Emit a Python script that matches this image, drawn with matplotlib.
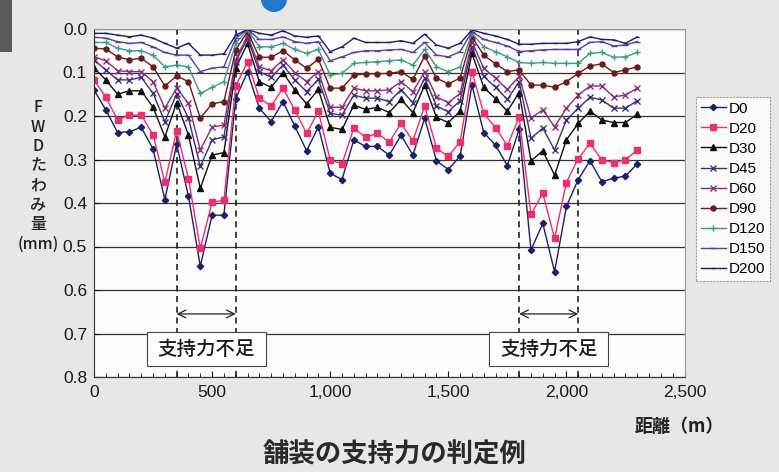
import matplotlib
matplotlib.use("Agg")
import matplotlib.pyplot as plt
from matplotlib.patches import Rectangle, Ellipse
import numpy as np

plt.rcParams['font.family'] = ['Liberation Sans', 'Noto Sans CJK JP', 'DejaVu Sans']

distance = list(range(0, 2301, 50))

D0 = [0.140, 0.186, 0.238, 0.236, 0.226, 0.276, 0.392, 0.265, 0.385, 0.545, 0.428, 0.428,
      0.160, 0.099, 0.182, 0.213, 0.167, 0.223, 0.280, 0.225, 0.332, 0.346, 0.255, 0.270,
      0.270, 0.290, 0.244, 0.290, 0.205, 0.303, 0.323, 0.292, 0.129, 0.238, 0.267, 0.314,
      0.230, 0.508, 0.447, 0.558, 0.408, 0.346, 0.303, 0.351, 0.343, 0.338, 0.310]
D20 = [0.117, 0.157, 0.209, 0.198, 0.198, 0.243, 0.352, 0.234, 0.344, 0.504, 0.398, 0.394,
       0.131, 0.076, 0.159, 0.177, 0.136, 0.186, 0.240, 0.189, 0.301, 0.310, 0.228, 0.249,
       0.240, 0.260, 0.217, 0.257, 0.177, 0.274, 0.293, 0.259, 0.098, 0.194, 0.227, 0.268,
       0.203, 0.426, 0.378, 0.481, 0.353, 0.298, 0.263, 0.301, 0.307, 0.301, 0.278]
D30 = [0.089, 0.117, 0.150, 0.142, 0.142, 0.180, 0.248, 0.169, 0.244, 0.366, 0.290, 0.284,
       0.090, 0.033, 0.121, 0.134, 0.100, 0.140, 0.172, 0.139, 0.226, 0.231, 0.175, 0.185,
       0.180, 0.192, 0.162, 0.192, 0.129, 0.203, 0.215, 0.189, 0.056, 0.134, 0.160, 0.189,
       0.146, 0.303, 0.280, 0.336, 0.255, 0.217, 0.189, 0.209, 0.215, 0.215, 0.196]
D45 = [0.071, 0.094, 0.117, 0.117, 0.111, 0.148, 0.213, 0.149, 0.205, 0.316, 0.255, 0.248,
       0.075, 0.021, 0.098, 0.111, 0.083, 0.117, 0.144, 0.116, 0.194, 0.198, 0.152, 0.159,
       0.159, 0.167, 0.140, 0.169, 0.113, 0.177, 0.190, 0.165, 0.041, 0.109, 0.134, 0.162,
       0.121, 0.251, 0.228, 0.278, 0.209, 0.182, 0.157, 0.163, 0.182, 0.182, 0.165]
D60 = [0.064, 0.073, 0.096, 0.098, 0.098, 0.121, 0.182, 0.136, 0.171, 0.278, 0.225, 0.221,
       0.071, 0.014, 0.087, 0.096, 0.071, 0.100, 0.121, 0.098, 0.180, 0.180, 0.136, 0.142,
       0.142, 0.140, 0.121, 0.144, 0.098, 0.156, 0.169, 0.148, 0.029, 0.090, 0.113, 0.139,
       0.109, 0.205, 0.186, 0.225, 0.182, 0.152, 0.131, 0.131, 0.156, 0.152, 0.136]
D90 = [0.044, 0.046, 0.064, 0.071, 0.067, 0.087, 0.131, 0.108, 0.121, 0.205, 0.172, 0.167,
       0.048, 0.006, 0.065, 0.065, 0.050, 0.071, 0.090, 0.070, 0.136, 0.136, 0.106, 0.103,
       0.103, 0.102, 0.098, 0.116, 0.062, 0.113, 0.126, 0.113, 0.018, 0.060, 0.080, 0.098,
       0.094, 0.129, 0.129, 0.134, 0.121, 0.102, 0.085, 0.080, 0.100, 0.094, 0.087]
D120 = [0.031, 0.031, 0.044, 0.050, 0.050, 0.060, 0.087, 0.083, 0.087, 0.148, 0.134, 0.121,
        0.033, 0.002, 0.041, 0.041, 0.033, 0.047, 0.056, 0.047, 0.106, 0.102, 0.079, 0.077,
        0.075, 0.073, 0.071, 0.083, 0.047, 0.087, 0.098, 0.087, 0.010, 0.041, 0.052, 0.064,
        0.077, 0.079, 0.077, 0.079, 0.079, 0.079, 0.056, 0.054, 0.065, 0.064, 0.054]
D150 = [0.019, 0.021, 0.029, 0.033, 0.031, 0.041, 0.054, 0.060, 0.060, 0.098, 0.090, 0.087,
        0.021, 0.001, 0.024, 0.024, 0.018, 0.029, 0.033, 0.029, 0.073, 0.064, 0.054, 0.050,
        0.050, 0.048, 0.047, 0.054, 0.031, 0.060, 0.064, 0.052, 0.006, 0.024, 0.031, 0.039,
        0.052, 0.050, 0.048, 0.047, 0.047, 0.047, 0.031, 0.029, 0.039, 0.037, 0.029]
D200 = [0.010, 0.010, 0.014, 0.018, 0.014, 0.021, 0.033, 0.044, 0.033, 0.060, 0.060, 0.057,
        0.014, 0.001, 0.010, 0.014, 0.004, 0.016, 0.019, 0.016, 0.052, 0.041, 0.021, 0.031,
        0.031, 0.031, 0.027, 0.033, 0.012, 0.037, 0.044, 0.033, 0.002, 0.010, 0.016, 0.024,
        0.035, 0.035, 0.033, 0.033, 0.033, 0.029, 0.018, 0.024, 0.025, 0.033, 0.018]

series_names = ['D0', 'D20', 'D30', 'D45', 'D60', 'D90', 'D120', 'D150', 'D200']
series_values = [D0, D20, D30, D45, D60, D90, D120, D150, D200]

y_ticks = [0.0, 0.1, 0.2, 0.3, 0.4, 0.5, 0.6, 0.7, 0.8]
x_ticks = [0, 500, 1000, 1500, 2000, 2500]
x_tick_labels = ['0', '500', '1,000', '1,500', '2,000', '2,500']

weak_zones = [(350, 600), (1800, 2050)]
weak_label = '支持力不足'

styles = {
    'D0':   dict(color='#1c1f6b', marker='D', ms=3.2),
    'D20':  dict(color='#ec2f6d', marker='s', ms=4.2),
    'D30':  dict(color='#111111', marker='^', ms=4.2),
    'D45':  dict(color='#3b2f7e', marker='x', ms=4.0),
    'D60':  dict(color='#8b2d7c', marker='x', ms=4.0),
    'D90':  dict(color='#6b1c1c', marker='o', ms=3.6),
    'D120': dict(color='#3f9a8c', marker='+', ms=5.0),
    'D150': dict(color='#5b3d9c', marker='_', ms=4.0),
    'D200': dict(color='#1d1d70', marker='_', ms=3.0),
}

fig = plt.figure(figsize=(7.79, 4.72), dpi=100)
fig.patch.set_facecolor('#e7e7e5')

# decorative scan elements
fig.add_artist(Rectangle((0, 1 - 52 / 472), 12 / 779, 52 / 472, transform=fig.transFigure,
                         facecolor='#5a5a5c', edgecolor='none'))
fig.add_artist(Ellipse((274 / 779, 1 + 1 / 472), 26 / 779, 26 / 472, transform=fig.transFigure,
                       facecolor='#2277cc', edgecolor='none'))

ax = fig.add_axes([94 / 779, 1 - 377 / 472, (684.5 - 94) / 779, (377 - 29) / 472])
ax.set_facecolor('#fcfcfa')

for name, vals in zip(series_names, series_values):
    st = styles[name]
    ax.plot(distance, vals, color=st['color'], lw=1.0, marker=st['marker'], ms=st['ms'],
            mew=1.0, label=name)

ax.set_xlim(0, 2500)
ax.set_ylim(0.8, 0.0)
ax.set_yticks(y_ticks)
ax.set_yticklabels([f'{v:.1f}' for v in y_ticks])
ax.set_xticks(x_ticks)
ax.set_xticklabels(x_tick_labels)
ax.set_xticks(np.arange(0, 2501, 50), minor=True)
ax.tick_params(axis='both', labelsize=12.5, colors='#1a1a1a', direction='in', length=4)
ax.tick_params(axis='x', which='minor', direction='in', length=3)
ax.tick_params(axis='x', pad=6)
ax.tick_params(axis='y', pad=5)
ax.grid(axis='y', color='#333333', lw=0.9)
ax.set_axisbelow(True)
for s in ['top', 'right']:
    ax.spines[s].set_color('#999999')
for s in ['left', 'bottom']:
    ax.spines[s].set_color('#333333')

# weak support zones
for x0, x1 in weak_zones:
    for xv in (x0, x1):
        ax.axvline(xv, color='#111111', lw=1.1, ls=(0, (4, 3)), zorder=1)
    ax.annotate('', xy=(x0, 0.655), xytext=(x1, 0.655),
                arrowprops=dict(arrowstyle='<->', color='#222222', lw=0.9,
                                shrinkA=0, shrinkB=0, mutation_scale=14))
    xc = (x0 + x1) / 2
    ax.add_patch(Rectangle((xc - 252, 0.697), 504, 0.077, facecolor='white',
                           edgecolor='#444444', lw=0.8, zorder=4))
    ax.text(xc, 0.737, weak_label, ha='center', va='center', fontsize=14,
            family=['Noto Sans CJK JP'], fontweight='medium', color='#1a1a1a', zorder=5)

leg = ax.legend(loc='upper left', bbox_to_anchor=(696 / 779, 1 - 97 / 472),
                bbox_transform=fig.transFigure, fontsize=11, frameon=True,
                fancybox=False, handlelength=1.65, handletextpad=0.2,
                borderpad=0.3, labelspacing=0.4, borderaxespad=0)
leg.get_frame().set_edgecolor('#888888')
leg.get_frame().set_linestyle((0, (2, 1)))
leg.get_frame().set_linewidth(0.8)

# y label stacked vertically
fig.text(38 / 779, 1 - 176 / 472, 'F\nW\nD\nた\nわ\nみ\n量\n(mm)', ha='center', va='center',
         fontsize=11.5, linespacing=1.2, family=['Noto Sans CJK JP'], fontweight='medium',
         color='#222222')

fig.text(679 / 779, 1 - 427 / 472, '距離（m）', ha='center', va='center', fontsize=13,
         family=['Noto Sans CJK JP'], fontweight='bold', color='#222222')
fig.text(395 / 779, 1 - 455 / 472, '舗装の支持力の判定例', ha='center', va='center',
         fontsize=19, family=['Noto Sans CJK JP'], fontweight='bold', color='#2a2a2a')

fig.savefig('out.png', dpi=100, facecolor=fig.get_facecolor())
